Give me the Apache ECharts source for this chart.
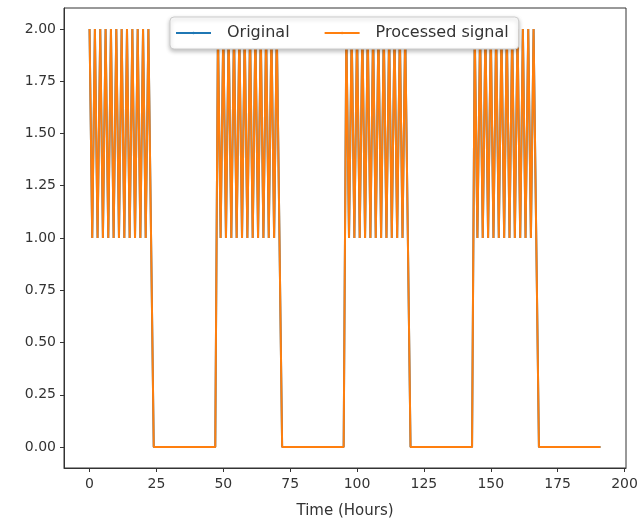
<!DOCTYPE html>
<html>
<head>
  <meta charset="utf-8">
  <title>Original vs processed signal</title>
  <script src="https://cdn.jsdelivr.net/npm/echarts@6/dist/echarts.min.js"></script>
</head>
<body style="margin: 0; width: 644px; height: 526px; background: #fff;">
  <div id="container" style="width: 644px; height: 526px;"></div>
  <script>
    // hourly signal (4 "on" days alternating 2/1, then 24h at 0)
    var original = [
      2,1,2,1,2,1,2,1,2,1,2,1,2,1,2,1,2,1,2,1,2,1,2,1,
      0,0,0,0,0,0,0,0,0,0,0,0,0,0,0,0,0,0,0,0,0,0,0,0,
      2,1,2,1,2,1,2,1,2,1,2,1,2,1,2,1,2,1,2,1,2,1,2,1,
      0,0,0,0,0,0,0,0,0,0,0,0,0,0,0,0,0,0,0,0,0,0,0,0,
      2,1,2,1,2,1,2,1,2,1,2,1,2,1,2,1,2,1,2,1,2,1,2,1,
      0,0,0,0,0,0,0,0,0,0,0,0,0,0,0,0,0,0,0,0,0,0,0,0,
      2,1,2,1,2,1,2,1,2,1,2,1,2,1,2,1,2,1,2,1,2,1,2,1,
      0,0,0,0,0,0,0,0,0,0,0,0,0,0,0,0,0,0,0,0,0,0,0,0
    ];
    // processed signal lies exactly on top of the original
    var processed = original.slice();

    var xTicks = [0, 25, 50, 75, 100, 125, 150, 175, 200];
    var yTicks = [0, 0.25, 0.5, 0.75, 1, 1.25, 1.5, 1.75, 2];

    function pairs(vals) {
      return vals.map(function (v, hour) { return [hour, v]; });
    }

    var chart = echarts.init(document.getElementById('container'), null, { renderer: 'canvas' });
    var font = 'DejaVu Sans';

    chart.setOption({
      animation: false,
      textStyle: { fontFamily: font },
      grid: {
        left: 64, right: 18, top: 8, bottom: 58,
        show: true, borderColor: '#333', borderWidth: 1, backgroundColor: '#fff'
      },
      legend: {
        top: 17,
        left: 170,
        data: ['Original', 'Processed signal'],
        itemWidth: 35,
        itemHeight: 3,
        itemGap: 34,
        padding: [8, 10, 8, 5],
        backgroundColor: '#fff',
        borderColor: '#ccc',
        borderWidth: 1,
        borderRadius: 4,
        shadowColor: 'rgba(0,0,0,0.25)',
        shadowBlur: 4,
        shadowOffsetY: 2,
        textStyle: { fontFamily: font, fontSize: 16, color: '#333', padding: [0, 0, 0, 11] }
      },
      xAxis: {
        type: 'value',
        min: -9.55,
        max: 200.55,
        name: 'Time (Hours)',
        nameLocation: 'middle',
        nameGap: 36,
        nameTextStyle: { fontFamily: font, fontSize: 15, color: '#333' },
        splitLine: { show: false },
        axisLine: { show: true, onZero: false, lineStyle: { color: '#333', width: 1 } },
        axisTick: { show: true, customValues: xTicks, length: 4, lineStyle: { color: '#333' } },
        axisLabel: { customValues: xTicks, fontSize: 14, color: '#333', margin: 9 }
      },
      yAxis: {
        type: 'value',
        min: -0.1,
        max: 2.1,
        splitLine: { show: false },
        axisLine: { show: true, onZero: false, lineStyle: { color: '#333', width: 1 } },
        axisTick: { show: true, customValues: yTicks, length: 4, lineStyle: { color: '#333' } },
        axisLabel: {
          customValues: yTicks, fontSize: 14, color: '#333', margin: 8,
          formatter: function (v) { return v.toFixed(2); }
        }
      },
      series: [
        {
          name: 'Original',
          type: 'line',
          data: pairs(original),
          symbol: 'none',
          lineStyle: { color: '#1f77b4', width: 2 },
          itemStyle: { color: '#1f77b4' }
        },
        {
          name: 'Processed signal',
          type: 'line',
          data: pairs(processed),
          symbol: 'none',
          lineStyle: { color: '#ff7f0e', width: 2 },
          itemStyle: { color: '#ff7f0e' }
        }
      ]
    });

    window.addEventListener('resize', chart.resize);
  </script>
</body>
</html>
